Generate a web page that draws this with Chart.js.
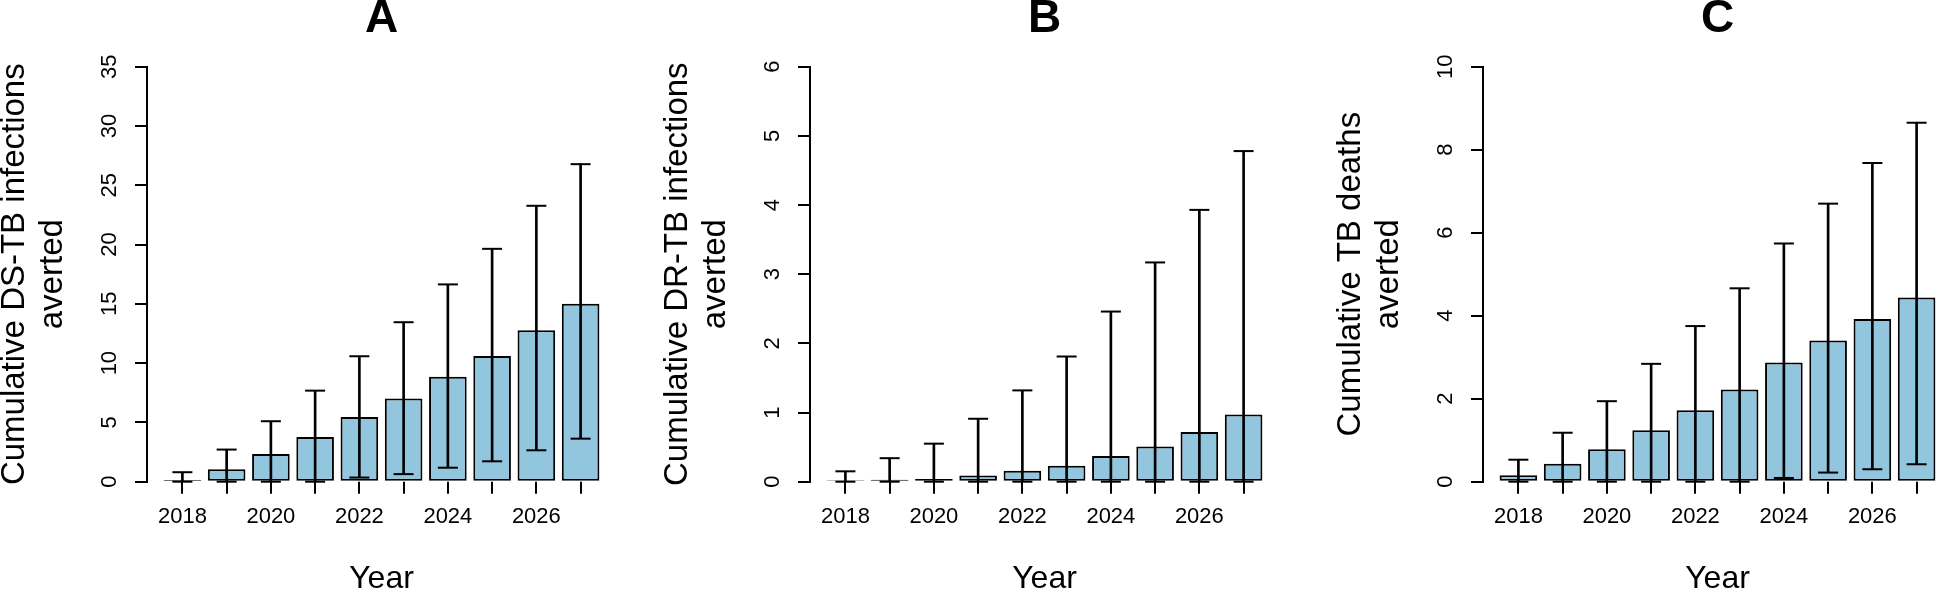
<!DOCTYPE html>
<html>
<head>
<meta charset="utf-8">
<script src="https://cdn.jsdelivr.net/npm/chart.js@4"></script>
<style>
  html, body { margin: 0; padding: 0; background: #fff; overflow: hidden; }
  body { width: 1945px; height: 594px; position: relative; }
  canvas { position: absolute; top: 0; }
</style>
</head>
<body>
<canvas id="panelA" width="632" height="594" style="left:-4px"></canvas>
<canvas id="panelB" width="632" height="594" style="left:659px"></canvas>
<canvas id="panelC" width="632" height="594" style="left:1332px"></canvas>
<script>
const years = [2018, 2019, 2020, 2021, 2022, 2023, 2024, 2025, 2026, 2027];

// A: cumulative DS-TB infections averted
const dsMean  = [0.15, 1.05, 2.33, 3.76, 5.45, 7.01, 8.86, 10.6, 12.78, 15.01];
const dsLower = [0, 0, 0, 0, 0.35, 0.64, 1.18, 1.72, 2.65, 3.63];
const dsUpper = [0.8, 2.71, 5.1, 7.68, 10.58, 13.45, 16.64, 19.64, 23.27, 26.78];
const dsTicks = [0, 5, 10, 15, 20, 25, 30, 35];

// B: cumulative DR-TB infections averted
const drMean  = [0.02, 0.03, 0.04, 0.09, 0.16, 0.23, 0.37, 0.51, 0.72, 0.97];
const drLower = [0, 0, 0, 0, 0, 0, 0, 0, 0, 0];
const drUpper = [0.15, 0.34, 0.55, 0.91, 1.32, 1.81, 2.46, 3.17, 3.93, 4.78];
const drTicks = [0, 1, 2, 3, 4, 5, 6];

// C: cumulative TB deaths averted
const deathMean  = [0.155, 0.43, 0.78, 1.24, 1.72, 2.22, 2.87, 3.40, 3.92, 4.44];
const deathLower = [0, 0, 0, 0, 0, 0, 0.09, 0.22, 0.30, 0.42];
const deathUpper = [0.53, 1.18, 1.94, 2.84, 3.75, 4.66, 5.74, 6.70, 7.68, 8.65];
const deathTicks = [0, 2, 4, 6, 8, 10];

const FONT = '"Liberation Sans", Arial, Helvetica, sans-serif';

// x tick marks under every bar, and y tick labels turned to run along the axis (as R draws them)
const axisMarks = {
    id: 'axisMarks',
    afterDraw(chart) {
        const { ctx, chartArea, scales: { x, y } } = chart;
        ctx.save();
        ctx.strokeStyle = '#000';
        ctx.lineWidth = 2;
        ctx.beginPath();
        years.forEach(yr => {
            const px = Math.round(x.getPixelForValue(yr));
            ctx.moveTo(px, chartArea.bottom);
            ctx.lineTo(px, chartArea.bottom + 12);
        });
        ctx.stroke();
        ctx.fillStyle = '#000';
        ctx.font = '22px ' + FONT;
        ctx.textAlign = 'center';
        ctx.textBaseline = 'middle';
        y.ticks.forEach(t => {
            ctx.save();
            ctx.translate(chartArea.left - 37, y.getPixelForValue(t.value));
            ctx.rotate(-Math.PI / 2);
            ctx.fillText(String(t.value), 0, 0);
            ctx.restore();
        });
        ctx.restore();
    }
};

function drawPanel(id, letter, yTitle, mean, lower, upper, yTicks) {
    const pts = vals => years.map((yr, i) => ({ x: yr, y: vals[i] }));
    new Chart(document.getElementById(id), {
        type: 'bar',
        data: {
            datasets: [
                {   // error bar caps
                    type: 'scatter',
                    data: pts(upper).concat(pts(lower)),
                    pointStyle: 'line',
                    pointRadius: 10,
                    pointBorderWidth: 2,
                    pointBorderColor: '#000',
                    borderColor: '#000',
                    borderWidth: 2,
                    clip: false,
                    order: 1
                },
                {   // error bar stems
                    data: years.map((yr, i) => ({ x: yr, y: [lower[i], upper[i]] })),
                    backgroundColor: '#000',
                    borderWidth: 0,
                    barThickness: 2,
                    grouped: false,
                    clip: false,
                    order: 2
                },
                {
                    data: pts(mean),
                    backgroundColor: '#92c5de',
                    borderColor: '#000',
                    borderWidth: 2,
                    borderSkipped: false,
                    grouped: false,
                    categoryPercentage: 1,
                    barPercentage: 0.85,
                    clip: false,
                    order: 3
                }
            ]
        },
        options: {
            responsive: false,
            animation: false,
            events: [],
            layout: { padding: 0 },
            plugins: {
                legend: { display: false },
                tooltip: { enabled: false },
                title: {
                    display: true,
                    text: letter,
                    fullSize: false,
                    color: '#000',
                    font: { family: FONT, size: 46, weight: 'bold', lineHeight: 0.85 },
                    padding: { top: 0, bottom: 27.6 }
                }
            },
            scales: {
                x: {
                    type: 'linear',
                    offset: false,
                    min: years[0] - 0.8,
                    max: years[years.length - 1] + 0.8,
                    afterBuildTicks: s => { s.ticks = years.map(v => ({ value: v })); },
                    afterFit: s => { s.height = 112.3; },
                    border: { display: false },
                    grid: { offset: false, drawOnChartArea: false, drawTicks: true, tickLength: 12, color: 'rgba(0,0,0,0)' },
                    ticks: {
                        autoSkip: false, maxRotation: 0, padding: 10, color: '#000',
                        font: { family: FONT, size: 22 },
                        callback: v => (v % 2 === 0 ? String(v) : '')
                    },
                    title: {
                        display: true, text: 'Year', color: '#000',
                        font: { family: FONT, size: 32, lineHeight: 0.9 },
                        padding: { top: 0, bottom: 0 }
                    }
                },
                y: {
                    min: 0,
                    max: yTicks[yTicks.length - 1],
                    afterBuildTicks: s => { s.ticks = yTicks.map(v => ({ value: v })); },
                    afterFit: s => { s.width = 151; },
                    border: { display: true, color: '#000', width: 2 },
                    grid: { drawOnChartArea: false, drawTicks: true, tickLength: 12, color: '#000', lineWidth: 2 },
                    ticks: { display: false },
                    title: {
                        display: true, text: yTitle, color: '#000',
                        font: { family: FONT, size: 33, lineHeight: 1.15 },
                        padding: { top: 0, bottom: 0 }
                    }
                }
            }
        },
        plugins: [axisMarks]
    });
}

drawPanel('panelA', 'A', ['Cumulative DS-TB infections', 'averted'], dsMean, dsLower, dsUpper, dsTicks);
drawPanel('panelB', 'B', ['Cumulative DR-TB infections', 'averted'], drMean, drLower, drUpper, drTicks);
drawPanel('panelC', 'C', ['Cumulative TB deaths', 'averted'], deathMean, deathLower, deathUpper, deathTicks);
</script>
</body>
</html>
